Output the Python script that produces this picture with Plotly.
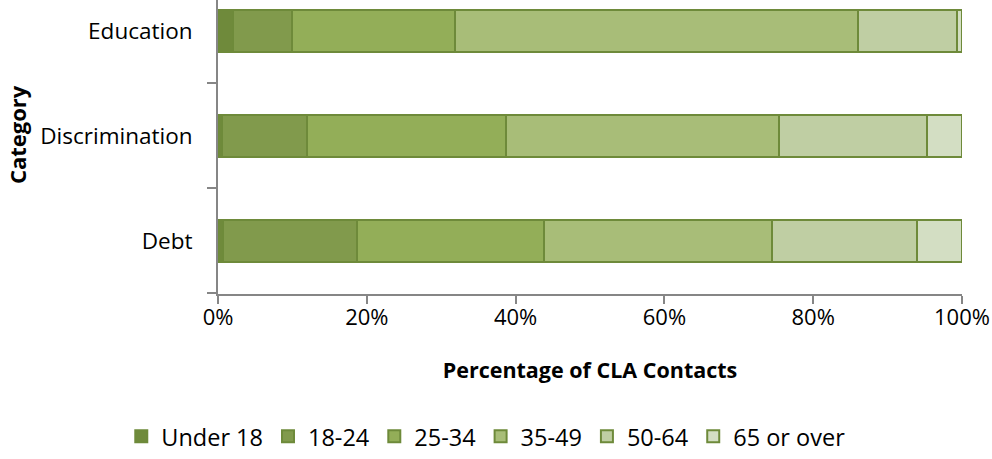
import plotly.graph_objects as go

categories = ["Debt", "Discrimination", "Education"]
age_groups = ["Under 18", "18-24", "25-34", "35-49", "50-64", "65 or over"]
# percentage of CLA contacts per category (Debt, Discrimination, Education)
under_18 = [0.7, 0.6, 2.0]
age_18_24 = [18.0, 11.4, 7.9]
age_25_34 = [25.1, 26.7, 22.0]
age_35_49 = [30.7, 36.7, 54.1]
age_50_64 = [19.5, 19.9, 13.3]
age_65_over = [6.0, 4.7, 0.7]

series = [under_18, age_18_24, age_25_34, age_35_49, age_50_64, age_65_over]
colors = ["#6f8a3b", "#819a4c", "#93ae58", "#a8bd78", "#bfcea3", "#d3dec3"]

fig = go.Figure()
for name, vals, col in zip(age_groups, series, colors):
    fig.add_trace(go.Bar(
        y=categories, x=[v / 100 for v in vals], name=name, orientation="h",
        marker=dict(color=col, line=dict(color="#6e8a3a", width=2)),
        width=0.4,
    ))

font_family = "Open Sans, Liberation Sans, sans-serif"
fig.update_layout(
    barmode="stack",
    width=992, height=459,
    margin=dict(l=218, r=30, t=0, b=158),
    plot_bgcolor="white", paper_bgcolor="white",
    font=dict(family=font_family, size=22, color="#000000"),
    showlegend=True,
    legend=dict(orientation="h", x=-0.13, xanchor="left", y=-0.485, yanchor="middle",
                font=dict(size=23.5), traceorder="normal", itemwidth=30),
    xaxis=dict(range=[0, 1], dtick=0.2, tickformat=".0%", showgrid=False, zeroline=False,
               showline=True, linecolor="#868686", linewidth=2,
               ticks="outside", ticklen=8, tickcolor="#868686", tickwidth=2,
               tickfont=dict(size=22), ticklabelstandoff=-5,
               title=dict(text="<b>Percentage of CLA Contacts</b>", font=dict(size=21.5), standoff=33)),
    yaxis=dict(range=[-0.507, 2.293], type="category", showgrid=False, zeroline=False,
               showline=True, linecolor="#868686", linewidth=2,
               ticks="outside", ticklen=9, tickcolor="#868686", tickwidth=2,
               tickson="boundaries", tickfont=dict(size=22.5), ticklabelstandoff=19),
    annotations=[dict(text="<b>Category</b>", textangle=-90, xref="paper", yref="paper",
                      x=-0.27, y=0.541, xanchor="center", yanchor="middle", showarrow=False,
                      font=dict(size=22))],
)

fig.write_html("out.html")
